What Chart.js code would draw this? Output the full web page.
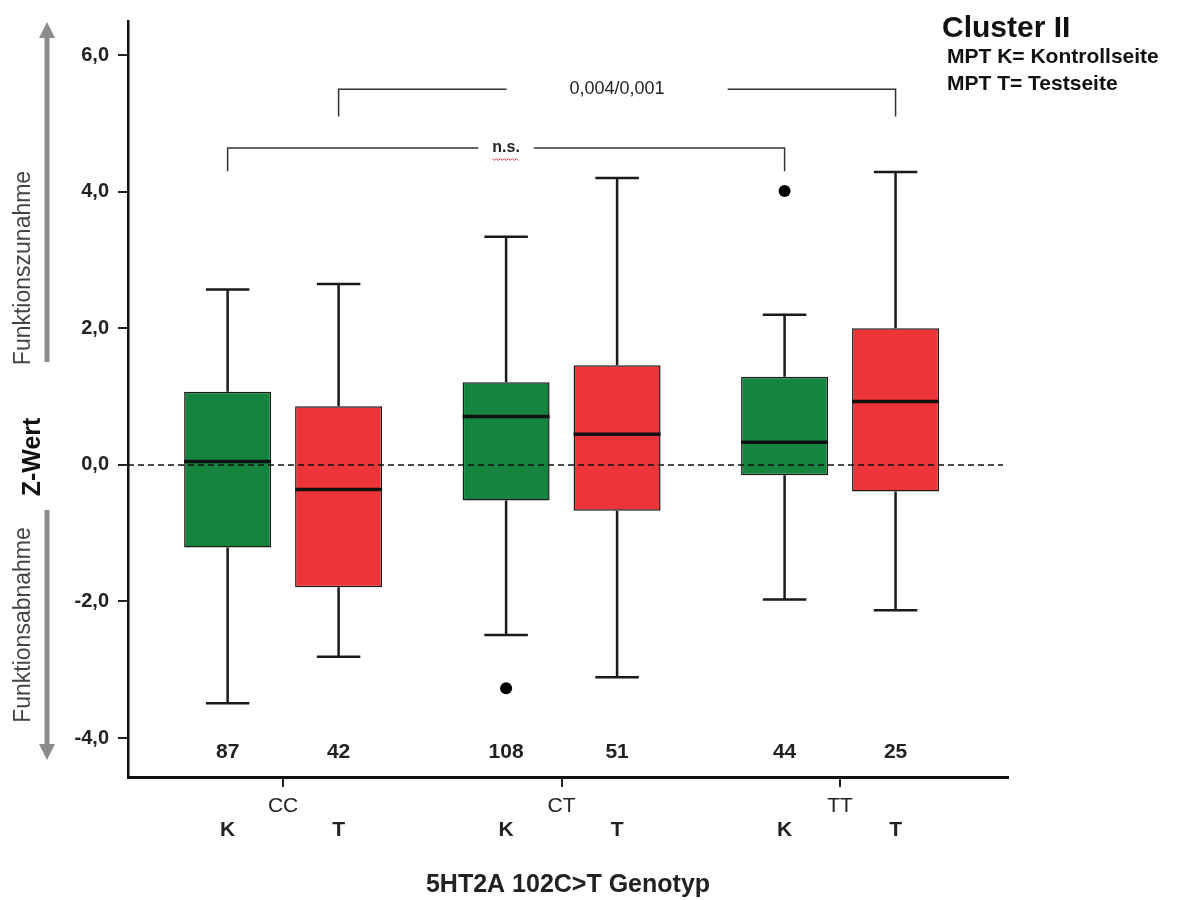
<!DOCTYPE html>
<html>
<head>
<meta charset="utf-8">
<script src="https://cdn.jsdelivr.net/npm/chart.js@4.4.1/dist/chart.umd.min.js"></script>
<style>
  html, body { margin: 0; padding: 0; background: #fff; }
</style>
</head>
<body>
<canvas id="chart" width="1177" height="900"></canvas>
<script>
const groups = ['CC', 'CT', 'TT'];
const sides = ['K', 'T'];

// K = Kontrollseite
const kMin = [-3.49, -2.49, -1.97];
const kQ1 = [-1.21, -0.52, -0.15];
const kMedian = [0.05, 0.71, 0.33];
const kQ3 = [1.07, 1.21, 1.29];
const kMax = [2.57, 3.34, 2.20];
const kOutliers = [[], [-3.27], [4.01]];
const kCount = [87, 108, 44];

// T = Testseite
const tMin = [-2.81, -3.11, -2.13];
const tQ1 = [-1.79, -0.67, -0.39];
const tMedian = [-0.36, 0.45, 0.93];
const tQ3 = [0.86, 1.46, 2.00];
const tMax = [2.65, 4.20, 4.29];
const tOutliers = [[], [], []];
const tCount = [42, 51, 25];

const yTicks = [-4, -2, 0, 2, 4, 6];

// [group, dataset] ends of the significance brackets
const brackets = [
    { from: [0, 1], to: [2, 1], y: 5.5, drop: 5.1, label: '0,004/0,001' },
    { from: [0, 0], to: [2, 0], y: 4.64, drop: 4.3, label: 'n.s.' }
];

const FONT = "'Liberation Sans', Arial, sans-serif";
Chart.defaults.font.family = FONT;

function boxData(q1, q3) {
    return groups.map((g, i) => ({ x: i, y: [q1[i], q3[i]] }));
}

const boxPlot = {
    id: 'boxPlot',
    afterDatasetsDraw(chart) {
        const ctx = chart.ctx;
        const y = chart.scales.y;
        const area = chart.chartArea;

        ctx.save();
        chart.data.datasets.forEach((ds, di) => {
            const meta = chart.getDatasetMeta(di);
            const st = ds.stats;
            meta.data.forEach((bar, i) => {
                const x = bar.x;
                const w = bar.width;
                const top = Math.min(bar.y, bar.base);
                const bottom = Math.max(bar.y, bar.base);
                const yMax = y.getPixelForValue(st.max[i]);
                const yMin = y.getPixelForValue(st.min[i]);
                const cap = w * 0.25;

                ctx.strokeStyle = '#1a1a1a';
                ctx.lineWidth = 2.5;
                ctx.beginPath();
                ctx.moveTo(x, top); ctx.lineTo(x, yMax);
                ctx.moveTo(x - cap, yMax); ctx.lineTo(x + cap, yMax);
                ctx.moveTo(x, bottom); ctx.lineTo(x, yMin);
                ctx.moveTo(x - cap, yMin); ctx.lineTo(x + cap, yMin);
                ctx.stroke();

                ctx.lineWidth = 3.5;
                ctx.strokeStyle = '#111';
                const ym = y.getPixelForValue(st.median[i]);
                ctx.beginPath();
                ctx.moveTo(x - w / 2, ym); ctx.lineTo(x + w / 2, ym);
                ctx.stroke();

                ctx.fillStyle = '#000';
                st.outliers[i].forEach(v => {
                    ctx.beginPath();
                    ctx.arc(x, y.getPixelForValue(v), 6, 0, Math.PI * 2);
                    ctx.fill();
                });

                ctx.fillStyle = '#222';
                ctx.textAlign = 'center';
                ctx.textBaseline = 'middle';
                ctx.font = 'bold 21px ' + FONT;
                ctx.fillText(String(st.count[i]), x, area.bottom - 25);
                ctx.fillText(sides[di], x, area.bottom + 53);
            });
        });

        // zero line
        const y0 = y.getPixelForValue(0);
        ctx.strokeStyle = '#111';
        ctx.lineWidth = 1.5;
        ctx.setLineDash([6, 4]);
        ctx.beginPath();
        ctx.moveTo(area.left, y0);
        ctx.lineTo(area.right - 5, y0);
        ctx.stroke();
        ctx.setLineDash([]);

        // significance brackets
        const gaps = [63, 14];
        brackets.forEach((b, bi) => {
            const x1 = chart.getDatasetMeta(b.from[1]).data[b.from[0]].x;
            const x2 = chart.getDatasetMeta(b.to[1]).data[b.to[0]].x;
            const yl = y.getPixelForValue(b.y);
            const yd = y.getPixelForValue(b.drop);
            const mid = (x1 + x2) / 2;
            ctx.font = (bi === 1 ? 'bold 16px ' : '18px ') + FONT;
            const half = ctx.measureText(b.label).width / 2 + gaps[bi];
            ctx.strokeStyle = '#333';
            ctx.lineWidth = 1.5;
            ctx.beginPath();
            ctx.moveTo(x1, yd); ctx.lineTo(x1, yl); ctx.lineTo(mid - half, yl);
            ctx.moveTo(mid + half, yl); ctx.lineTo(x2, yl); ctx.lineTo(x2, yd);
            ctx.stroke();
            ctx.fillStyle = '#222';
            ctx.textAlign = 'center';
            ctx.textBaseline = 'middle';
            ctx.fillText(b.label, mid, yl);
            if (b.label === 'n.s.') {
                const tw = ctx.measureText(b.label).width;
                ctx.strokeStyle = '#e03030';
                ctx.lineWidth = 1;
                ctx.beginPath();
                for (let k = 0; k <= tw; k += 2) {
                    const px = mid - tw / 2 + k;
                    const py = yl + 11 + ((k / 2) % 2 ? 1.5 : -0.5);
                    if (k === 0) ctx.moveTo(px, py); else ctx.lineTo(px, py);
                }
                ctx.stroke();
            }
        });
        ctx.restore();
    },
    afterDraw(chart) {
        const ctx = chart.ctx;
        ctx.save();

        // gray arrows on the left
        ctx.strokeStyle = '#8c8c8c';
        ctx.fillStyle = '#8c8c8c';
        ctx.lineWidth = 5;
        function arrow(x, from, tip) {
            const dir = Math.sign(tip - from);
            ctx.beginPath();
            ctx.moveTo(x, from);
            ctx.lineTo(x, tip - dir * 12);
            ctx.stroke();
            ctx.beginPath();
            ctx.moveTo(x, tip);
            ctx.lineTo(x - 8, tip - dir * 16);
            ctx.lineTo(x + 8, tip - dir * 16);
            ctx.closePath();
            ctx.fill();
        }
        arrow(47, 362, 22);
        arrow(47, 510, 760);

        function vText(text, x, y, font, color) {
            ctx.save();
            ctx.translate(x, y);
            ctx.rotate(-Math.PI / 2);
            ctx.font = font;
            ctx.fillStyle = color;
            ctx.textAlign = 'center';
            ctx.textBaseline = 'middle';
            ctx.fillText(text, 0, 0);
            ctx.restore();
        }
        vText('Funktionszunahme', 24, 268, '23px ' + FONT, '#444');
        vText('Z-Wert', 33, 457, 'bold 25px ' + FONT, '#111');
        vText('Funktionsabnahme', 24, 625, '23px ' + FONT, '#444');

        ctx.fillStyle = '#111';
        ctx.textAlign = 'left';
        ctx.textBaseline = 'alphabetic';
        ctx.font = 'bold 30px ' + FONT;
        ctx.fillText('Cluster II', 942, 37);
        ctx.font = 'bold 21px ' + FONT;
        ctx.fillText('MPT K= Kontrollseite', 947, 63);
        ctx.fillText('MPT T= Testseite', 947, 90);
        ctx.restore();
    }
};

const ctx = document.getElementById('chart').getContext('2d');

const chart = new Chart(ctx, {
    type: 'bar',
    data: {
        datasets: [{
            label: 'K',
            data: boxData(kQ1, kQ3),
            backgroundColor: '#15843f',
            borderColor: '#1a1a1a',
            borderWidth: 1.5,
            borderSkipped: false,
            stats: { min: kMin, median: kMedian, max: kMax, outliers: kOutliers, count: kCount }
        }, {
            label: 'T',
            data: boxData(tQ1, tQ3),
            backgroundColor: '#ef3439',
            borderColor: '#1a1a1a',
            borderWidth: 1.5,
            borderSkipped: false,
            stats: { min: tMin, median: tMedian, max: tMax, outliers: tOutliers, count: tCount }
        }]
    },
    options: {
        responsive: false,
        animation: false,
        categoryPercentage: 0.797,
        barPercentage: 0.784,
        layout: { padding: { top: 20, right: 169, bottom: 0, left: 0 } },
        plugins: {
            legend: { display: false },
            tooltip: { enabled: false }
        },
        scales: {
            x: {
                type: 'linear',
                offset: false,
                min: -0.557,
                max: 2.603,
                afterBuildTicks: s => { s.ticks = groups.map((g, i) => ({ value: i })); },
                afterFit: s => { s.height = 123; },
                grid: { offset: false, drawOnChartArea: false, tickLength: 10, color: '#222', lineWidth: 2 },
                border: { color: '#111', width: 3 },
                ticks: {
                    callback: v => groups[v],
                    font: { size: 21 },
                    color: '#222',
                    padding: 7,
                    maxRotation: 0,
                    autoSkip: false
                },
                title: {
                    display: true,
                    text: '5HT2A 102C>T Genotyp',
                    font: { size: 25, weight: 'bold' },
                    color: '#222',
                    padding: { top: 0, bottom: 0 }
                }
            },
            y: {
                min: -4.57,
                max: 6.5,
                afterBuildTicks: s => { s.ticks = yTicks.map(v => ({ value: v })); },
                afterFit: s => { s.width = 128; },
                grid: { drawOnChartArea: false, tickLength: 10, color: '#222', lineWidth: 2 },
                border: { color: '#111', width: 2.5 },
                ticks: {
                    callback: v => v.toFixed(1).replace('.', ','),
                    font: { size: 20, weight: 'bold' },
                    color: '#222',
                    padding: 9
                }
            }
        }
    },
    plugins: [boxPlot]
});
</script>
</body>
</html>
